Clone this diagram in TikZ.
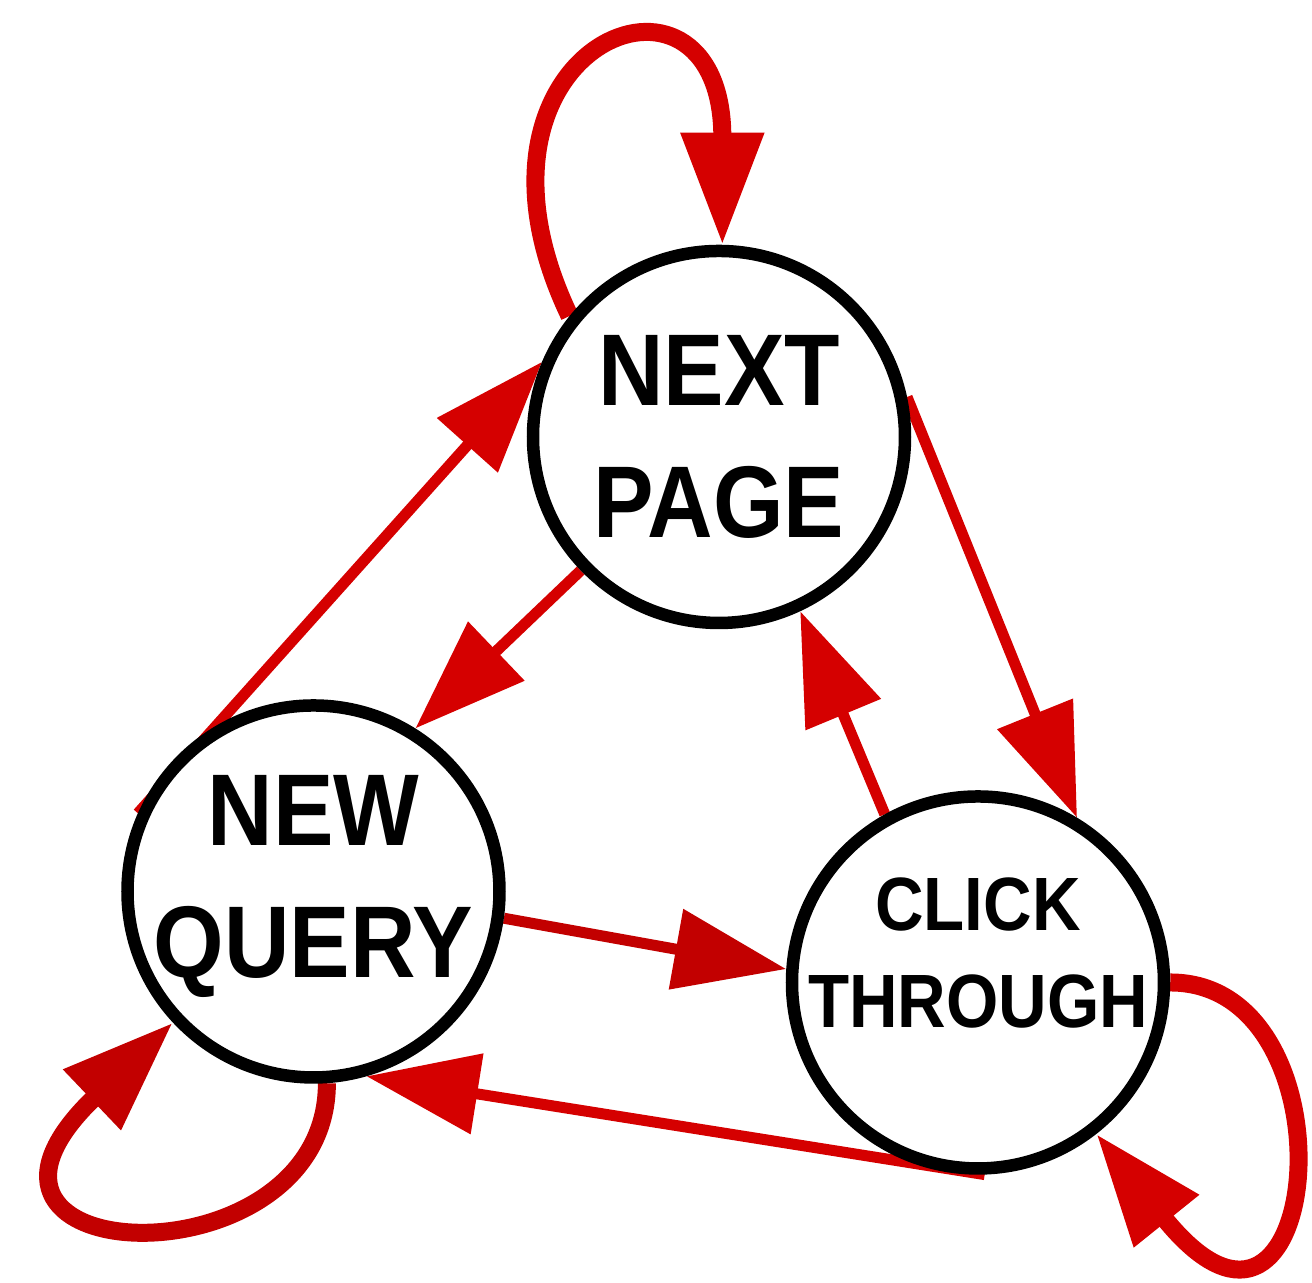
\documentclass[tikz,border=0pt]{standalone}
\usepackage{fontspec}
\usepackage{tikz}
\usetikzlibrary{arrows.meta,backgrounds}
\newfontfamily\statefont{Liberation Sans}[FakeStretch=0.89]
\definecolor{EdgeRed}{RGB}{213,0,0}
\definecolor{EdgeDarkRed}{RGB}{194,0,0}

\begin{document}
\begin{tikzpicture}[
  state/.style={
    circle,
    draw=black,
    fill=white,
    line width=0.125cm,
    minimum size=3.72cm,
    inner sep=0pt,
  },
  bigtxt/.style={
    font=\statefont\bfseries\fontsize{29}{37.3}\selectfont,
    align=center,
    inner sep=0pt,
  },
  smalltxt/.style={
    font=\statefont\bfseries\fontsize{21.5}{27.6}\selectfont,
    align=center,
    inner sep=0pt,
  },
  arr/.style={-{Triangle[length=1.12cm, width=0.79cm]}, line width=0.11cm, EdgeRed},
  selfarr/.style={arr, line width=0.18cm},
]
  \useasboundingbox (0,0) rectangle (13.12,12.83);

  \node[state] (np) at (7.19,8.46) {};
  \node[state] (nq) at (3.135,3.915) {};
  \node[state] (ct) at (9.78,3.005) {};

  \node[bigtxt] (np-text) at (np) {NEXT\\PAGE};
  \node[bigtxt] (nq-text) at ([yshift=0.05cm]nq) {NEW\\QUERY};
  \node[smalltxt] (ct-text) at ([yshift=0.295cm]ct) {CLICK\\THROUGH};

  % edges go under the circles
  \begin{scope}[on background layer]
    \draw[arr] (nq.156) -- (np.157);
    \draw[arr] (np.224) -- (nq.58);
    \draw[arr] (np.12) -- (ct.59);
    \draw[arr] (ct.119) -- (np.295);
    \draw[arr, EdgeDarkRed] (nq.-8) -- (ct.176);
    \draw[arr] (ct.272) -- (nq.286);

    % self loops
    \draw[selfarr] (np.141) .. controls +(-1.3,2.72) and +(0,3.12) .. (np.89);
    \draw[selfarr, EdgeDarkRed] (nq.274) .. controls +(0,-2.05) and +(-2.62,-2.50) .. (nq.223);
    \draw[selfarr] (ct.0) .. controls +(1.9,0) and +(2.27,-2.82) .. (ct.308);
  \end{scope}
\end{tikzpicture}
\end{document}
